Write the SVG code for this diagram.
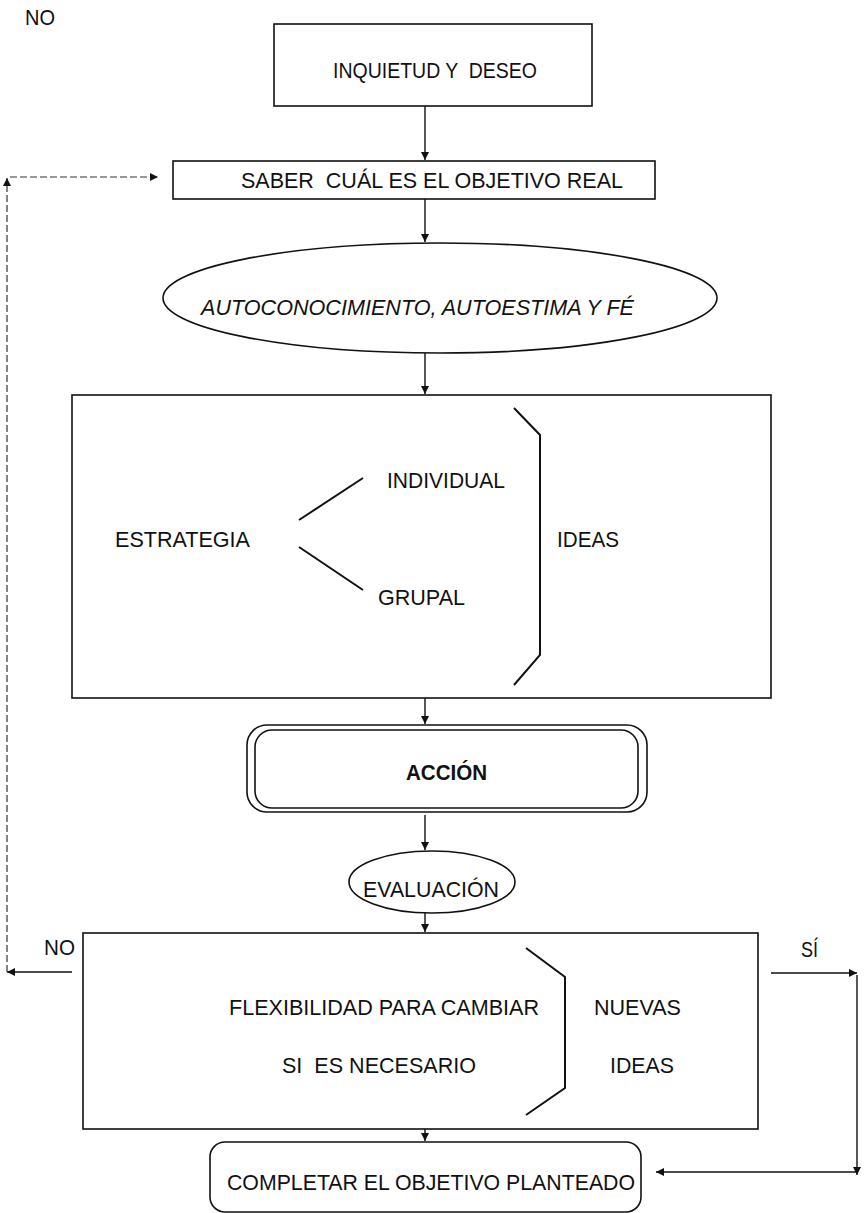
<svg xmlns="http://www.w3.org/2000/svg" width="865" height="1213" viewBox="0 0 865 1213">
  <style>
    .box { fill: none; stroke: #111; stroke-width: 1.6; }
    .ln { fill: none; stroke: #111; stroke-width: 1.4; }
    .br { fill: none; stroke: #111; stroke-width: 2; }
    .dash { fill: none; stroke: #333; stroke-width: 1.2; stroke-dasharray: 7 3; }
    .t { font-family: "Liberation Sans", Arial, sans-serif; font-size: 22px; fill: #111; }
    .it { font-style: italic; }
    .b { font-weight: bold; }
  </style>
  <defs>
    <marker id="ah" viewBox="0 0 10 10" refX="10" refY="5" markerWidth="8" markerHeight="8" markerUnits="userSpaceOnUse" orient="auto">
      <path d="M0,0 L10,5 L0,10 Z" fill="#111"/>
    </marker>
  </defs>
  <rect width="865" height="1213" fill="#fff"/>

  <text class="t" x="25" y="25" textLength="30" lengthAdjust="spacingAndGlyphs">NO</text>

  <g id="inquietud">
    <rect class="box" x="274" y="24" width="318" height="82"/>
    <text class="t" x="333" y="78" textLength="204" lengthAdjust="spacingAndGlyphs" xml:space="preserve">INQUIETUD Y  DESEO</text>
  </g>

  <g id="saber">
    <rect class="box" x="173" y="161" width="482" height="38"/>
    <text class="t" x="241" y="188" textLength="382" lengthAdjust="spacingAndGlyphs" xml:space="preserve">SABER  CUÁL ES EL OBJETIVO REAL</text>
  </g>

  <g id="autoconocimiento">
    <ellipse class="box" cx="440" cy="298" rx="277" ry="55"/>
    <text class="t it" x="201" y="315" textLength="433" lengthAdjust="spacingAndGlyphs">AUTOCONOCIMIENTO, AUTOESTIMA Y FÉ</text>
  </g>

  <g id="estrategia">
    <rect class="box" x="72" y="395" width="699" height="303"/>
    <text class="t" x="115" y="547" textLength="135" lengthAdjust="spacingAndGlyphs">ESTRATEGIA</text>
    <text class="t" x="387" y="488" textLength="118" lengthAdjust="spacingAndGlyphs">INDIVIDUAL</text>
    <text class="t" x="378" y="605" textLength="87" lengthAdjust="spacingAndGlyphs">GRUPAL</text>
    <text class="t" x="557" y="547" textLength="62" lengthAdjust="spacingAndGlyphs">IDEAS</text>
    <path class="br" d="M299,520 L363,478"/>
    <path class="br" d="M299,547 L363,590"/>
    <path class="br" d="M514,408 L540,435 L540,655 L514,685"/>
  </g>

  <g id="accion">
    <rect class="box" x="247" y="725" width="400" height="87" rx="20"/>
    <rect class="box" x="255" y="730" width="383" height="78" rx="17"/>
    <text class="t b" x="406" y="780" textLength="81" lengthAdjust="spacingAndGlyphs">ACCIÓN</text>
  </g>

  <g id="evaluacion">
    <ellipse class="box" cx="432" cy="882" rx="83" ry="31"/>
    <text class="t" x="363" y="897" font-size="25" textLength="136" lengthAdjust="spacingAndGlyphs">EVALUACIÓN</text>
  </g>

  <g id="flexibilidad">
    <rect class="box" x="83" y="933" width="675" height="196"/>
    <text class="t" x="229" y="1015" textLength="310" lengthAdjust="spacingAndGlyphs">FLEXIBILIDAD PARA CAMBIAR</text>
    <text class="t" x="282" y="1073" textLength="194" lengthAdjust="spacingAndGlyphs" xml:space="preserve">SI  ES NECESARIO</text>
    <text class="t" x="594" y="1015" textLength="87" lengthAdjust="spacingAndGlyphs">NUEVAS</text>
    <text class="t" x="610" y="1073" textLength="64" lengthAdjust="spacingAndGlyphs">IDEAS</text>
    <path class="br" d="M526,948 L565,977 L565,1088 L526,1115"/>
  </g>

  <g id="completar">
    <rect class="box" x="210" y="1142" width="431" height="70" rx="15"/>
    <text class="t" x="227" y="1190" textLength="408" lengthAdjust="spacingAndGlyphs">COMPLETAR EL OBJETIVO PLANTEADO</text>
  </g>

  <text class="t" x="44" y="955" textLength="31" lengthAdjust="spacingAndGlyphs">NO</text>
  <text class="t" x="801" y="957" textLength="17" lengthAdjust="spacingAndGlyphs">SÍ</text>

  <g id="connectors">
    <path class="ln" d="M425,106 L425,160" marker-end="url(#ah)"/>
    <path class="ln" d="M425,199 L425,242" marker-end="url(#ah)"/>
    <path class="ln" d="M425,353 L425,394" marker-end="url(#ah)"/>
    <path class="ln" d="M425,698 L425,724" marker-end="url(#ah)"/>
    <path class="ln" d="M425,815 L425,850" marker-end="url(#ah)"/>
    <path class="ln" d="M425,913 L425,932" marker-end="url(#ah)"/>
    <path class="ln" d="M425,1129 L425,1141" marker-end="url(#ah)"/>
    <!-- NO branch: back up to the objective box -->
    <path class="ln" d="M72,972 L7,972" marker-end="url(#ah)"/>
    <path class="dash" d="M7,972 L7,178" marker-end="url(#ah)"/>
    <path class="dash" d="M10,177 L158,177" marker-end="url(#ah)"/>
    <!-- SÍ branch: down to completion -->
    <path class="ln" d="M771,973 L857,973" marker-end="url(#ah)"/>
    <path class="ln" d="M857,975 L857,1175" marker-end="url(#ah)"/>
    <path class="ln" d="M857,1172 L656,1172" marker-end="url(#ah)"/>
  </g>
</svg>
